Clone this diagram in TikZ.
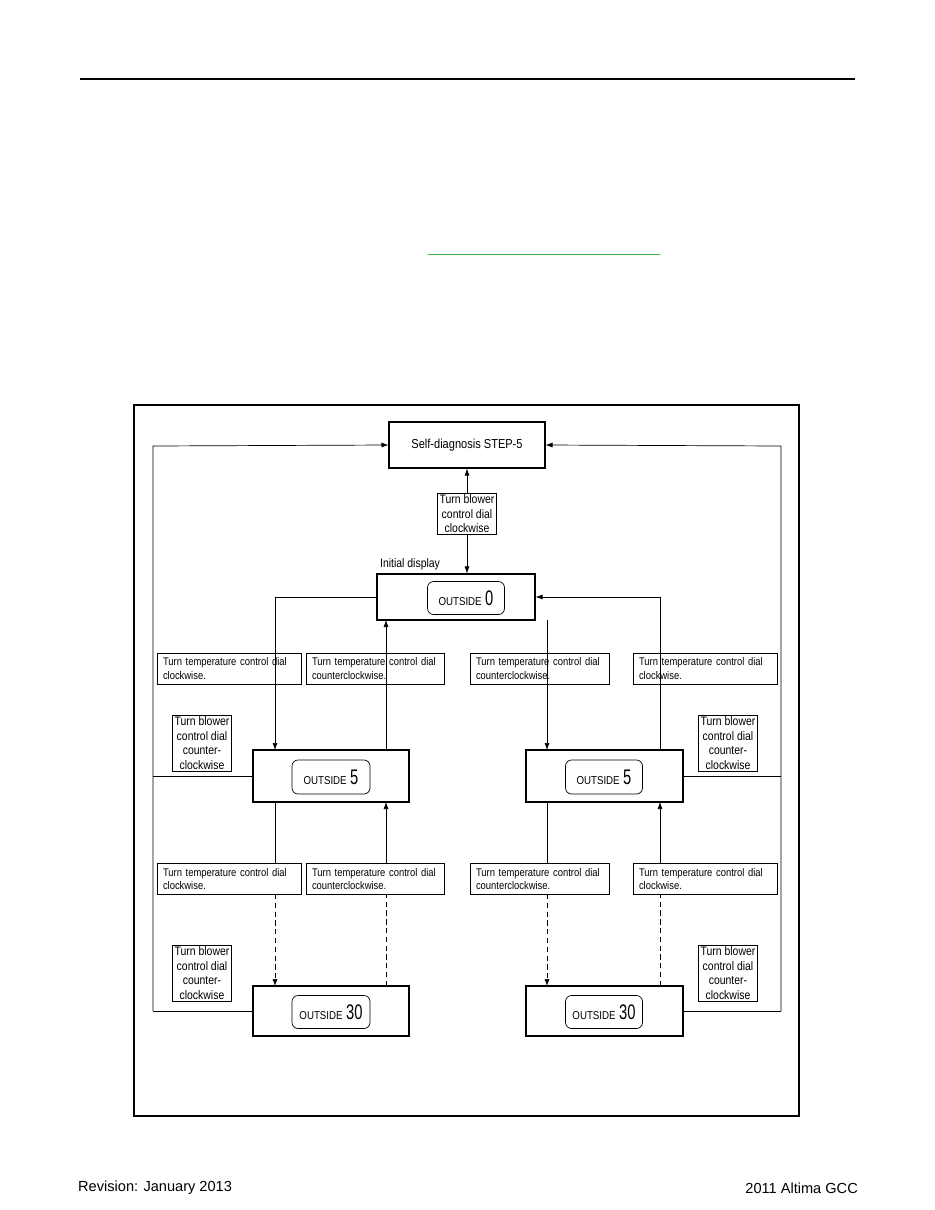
\documentclass[tikz,border=0pt]{standalone}
\usepackage{fontspec}
\setmainfont{Liberation Sans}
\newfontfamily\narrowfont[FakeStretch=0.85]{Liberation Sans}
\newfontfamily\digitfont[FakeStretch=0.7]{Liberation Sans}
\usetikzlibrary{positioning,arrows.meta}
\definecolor{linkgreen}{HTML}{3CB043}

\tikzset{
  box/.style={draw, semithick, inner sep=0pt},
  tempbox/.style={draw, inner xsep=0.12cm, inner ysep=0pt, minimum height=0.62cm, align=left, font=\narrowfont\fontsize{6.3}{7.6}\selectfont},
  blowbox/.style={draw, inner sep=1pt, align=center, font=\narrowfont\fontsize{7}{8.2}\selectfont},
  disp/.style={draw, rounded corners=1.2mm, inner sep=0pt},
  arr/.style={-{Latex[length=1.4mm,width=1mm]}},
}
\newcommand{\outside}[1]{{\narrowfont\fontsize{6.5}{7}\selectfont OUTSIDE}\hspace{2pt}{\digitfont\fontsize{12}{12}\selectfont #1}}

\begin{document}
\begin{tikzpicture}[x=0.02cm, y=-0.02cm]
      \useasboundingbox (0,0) rectangle (935,1210);
      % page decorations
      \draw[very thick] (80,79) -- (855,79);
      \draw[linkgreen] (428,254) -- (660,254);
      \draw[thick] (134,405) rectangle (799,1116);
      \node[anchor=west, font=\fontsize{8.3}{9}\selectfont] (rev) at (72,1188) {Revision: January 2013};
      \node[anchor=east, font=\fontsize{8.3}{9}\selectfont] (car) at (864,1188) {2011 Altima GCC};

      % main boxes
      \node[box, minimum width=3.12cm, minimum height=0.92cm, font=\narrowfont\fontsize{7.4}{8}\selectfont] (diag) at (467,445) {Self-diagnosis STEP-5};
      \node[blowbox] (blowcw) at (467,514) {Turn blower\\control dial\\clockwise};
      \node[box, minimum width=3.16cm, minimum height=0.92cm] (init) at (456,597) {};
      \node[disp, minimum width=1.54cm, minimum height=0.66cm] (initd) at (466,598) {\outside{0}};
      \node[anchor=south west, font=\narrowfont\fontsize{7}{8}\selectfont, inner sep=1pt] (initlbl) at (378,572) {Initial display};

      \node[box, minimum width=3.12cm, minimum height=1.04cm] (lfive) at (331,776) {};
      \node[disp, minimum width=1.56cm, minimum height=0.68cm] (lfived) at (331,777) {\outside{5}};
      \node[box, minimum width=3.14cm, minimum height=1.04cm] (rfive) at (604.5,776) {};
      \node[disp, minimum width=1.54cm, minimum height=0.68cm] (rfived) at (604,777) {\outside{5}};
      \node[box, minimum width=3.12cm, minimum height=1.0cm] (lthirty) at (331,1011) {};
      \node[disp, minimum width=1.56cm, minimum height=0.66cm] (lthirtyd) at (331,1012) {\outside{30}};
      \node[box, minimum width=3.14cm, minimum height=1.0cm] (rthirty) at (604.5,1011) {};
      \node[disp, minimum width=1.54cm, minimum height=0.66cm] (rthirtyd) at (604,1012) {\outside{30}};

      % temperature boxes
      \foreach \row/\y in {a/668.5, b/879} {
        \node[tempbox, text width=2.64cm] (\row1) at (229,\y) {Turn temperature control dial\\clockwise.};
        \node[tempbox, text width=2.52cm] (\row2) at (375,\y) {Turn temperature control dial\\counterclockwise.};
        \node[tempbox, text width=2.54cm] (\row3) at (539.5,\y) {Turn temperature control dial\\counterclockwise.};
        \node[tempbox, text width=2.64cm] (\row4) at (705,\y) {Turn temperature control dial\\clockwise.};
      }

      % blower counterclockwise boxes
      \node[blowbox] (blowl1) at (202,743) {Turn blower\\control dial\\counter-\\clockwise};
      \node[blowbox] (blowr1) at (728,743) {Turn blower\\control dial\\counter-\\clockwise};
      \node[blowbox] (blowl2) at (202,973) {Turn blower\\control dial\\counter-\\clockwise};
      \node[blowbox] (blowr2) at (728,973) {Turn blower\\control dial\\counter-\\clockwise};

      % corner points of the loops
      \coordinate (ltop) at (153,446);
      \coordinate (lbot) at (153,1011);
      \coordinate (rtop) at (781,446);
      \coordinate (rbot) at (781,1011);

      % connectors
      \draw[arr] (blowcw) -- (diag);
      \draw[arr] (blowcw) -- (blowcw |- init.north);
      \draw[arr] (lbot) -- (ltop) -- (diag.west);
      \draw[arr] (rbot) -- (rtop) -- (diag.east);
      \draw (lfive.west) -- (lfive.west -| ltop);
      \draw (lthirty.west) -- (lbot);
      \draw (rfive.east) -- (rfive.east -| rtop);
      \draw (rthirty.east) -- (rbot);

      \draw[arr] (init.west) -| (275,750);
      \draw[arr] (386,750) -- (386,620);
      \draw[arr] (547,620) -- (547,750);
      \draw[arr] (660,750) |- (init.east);

      \draw (275,802) -- (275,864);
      \draw[arr, densely dashed] (275,894) -- (275,986);
      \draw[arr] (386,864) -- (386,802);
      \draw[densely dashed] (386,986) -- (386,894);
      \draw (547,802) -- (547,864);
      \draw[arr, densely dashed] (547,894) -- (547,986);
      \draw[arr] (660,864) -- (660,802);
      \draw[densely dashed] (660,986) -- (660,894);
\end{tikzpicture}
\end{document}
